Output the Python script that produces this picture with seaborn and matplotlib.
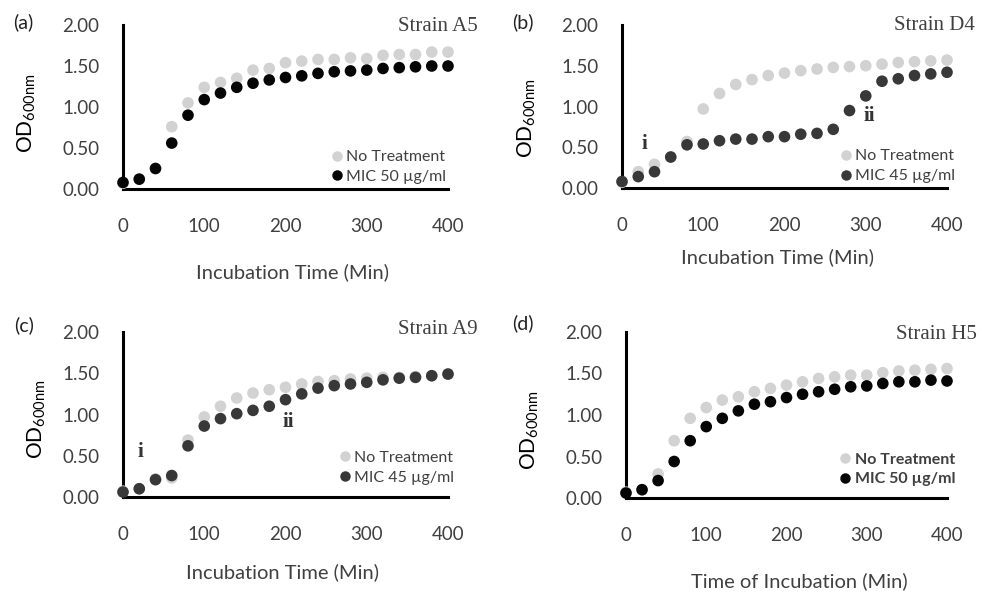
import pandas as pd
import matplotlib
matplotlib.use("Agg")
import matplotlib.pyplot as plt
import seaborn as sns

sns.set_theme(style="white")
plt.rcParams['font.family'] = ['Lato', 'DejaVu Sans']
plt.rcParams['mathtext.fontset'] = 'custom'
plt.rcParams['mathtext.rm'] = 'Lato'

# ----------------- data (OD600) -----------------
time_min = list(range(0, 401, 20))

a_none = [0.07, 0.12, 0.25, 0.76, 1.05, 1.24, 1.30, 1.35, 1.45, 1.47, 1.54,
          1.56, 1.58, 1.58, 1.60, 1.59, 1.63, 1.64, 1.64, 1.67, 1.67]
a_mic = [0.08, 0.12, 0.25, 0.56, 0.90, 1.09, 1.17, 1.24, 1.29, 1.33, 1.36,
         1.38, 1.41, 1.43, 1.44, 1.45, 1.47, 1.48, 1.49, 1.50, 1.50]

b_none = [0.07, 0.20, 0.29, 0.38, 0.57, 0.97, 1.16, 1.27, 1.33, 1.38, 1.41,
          1.44, 1.46, 1.48, 1.49, 1.50, 1.52, 1.54, 1.55, 1.56, 1.57]
b_mic = [0.08, 0.14, 0.20, 0.38, 0.53, 0.54, 0.58, 0.60, 0.60, 0.63, 0.63,
         0.66, 0.67, 0.72, 0.95, 1.13, 1.31, 1.34, 1.38, 1.40, 1.42]

c_none = [0.07, 0.10, 0.22, 0.23, 0.69, 0.97, 1.10, 1.20, 1.26, 1.30, 1.33,
          1.37, 1.40, 1.41, 1.43, 1.44, 1.45, 1.45, 1.46, 1.47, 1.49]
c_mic = [0.06, 0.10, 0.21, 0.26, 0.62, 0.86, 0.95, 1.01, 1.05, 1.10, 1.18,
         1.25, 1.32, 1.35, 1.37, 1.39, 1.42, 1.44, 1.45, 1.47, 1.49]

d_none = [0.07, 0.10, 0.29, 0.69, 0.96, 1.09, 1.18, 1.22, 1.28, 1.32, 1.36,
          1.40, 1.44, 1.46, 1.48, 1.48, 1.51, 1.53, 1.54, 1.55, 1.56]
d_mic = [0.06, 0.10, 0.21, 0.44, 0.69, 0.86, 0.96, 1.05, 1.13, 1.16, 1.21,
         1.25, 1.28, 1.31, 1.34, 1.35, 1.38, 1.40, 1.40, 1.42, 1.41]

y_ticks = [0, 0.5, 1.0, 1.5, 2.0]
x_ticks = [0, 100, 200, 300, 400]

LIGHT = '#d2d2d2'
TEXT = '#404040'

panels = [
    dict(letter='(a)', strain='Strain A5', none=a_none, mic=a_mic, mic_label='MIC 50 \u00b5g/ml',
         dark='#050505', xlabel='Incubation Time (Min)', bold_legend=False,
         rect=[123, 25, 448, 189], ylab=(-0.26, 0.46), xlab=(0.52, -0.45),
         leg=(0.995, 0.03), title=(1.09, 1.05), letter_xy=(13, 22), notes=[]),
    dict(letter='(b)', strain='Strain D4', none=b_none, mic=b_mic, mic_label='MIC 45 \u00b5g/ml',
         dark='#383838', xlabel='Incubation Time (Min)', bold_legend=False,
         rect=[622, 25, 947, 188], ylab=(-0.26, 0.43), xlab=(0.477, -0.37),
         leg=(1.025, 0.03), title=(1.086, 1.055), letter_xy=(512, 22),
         notes=[('i', 27, 0.54), ('ii', 304, 0.88)]),
    dict(letter='(c)', strain='Strain A9', none=c_none, mic=c_mic, mic_label='MIC 45 \u00b5g/ml',
         dark='#383838', xlabel='Incubation Time (Min)', bold_legend=False,
         rect=[123, 332, 448, 497], ylab=(-0.23, 0.47), xlab=(0.49, -0.40),
         leg=(1.02, 0.075), title=(1.09, 1.07), letter_xy=(14, 325),
         notes=[('i', 22, 0.54), ('ii', 204, 0.91)]),
    dict(letter='(d)', strain='Strain H5', none=d_none, mic=d_mic, mic_label='MIC 50 \u00b5g/ml',
         dark='#050505', xlabel='Time of Incubation (Min)', bold_legend=True,
         rect=[626, 332, 947, 498], ylab=(-0.265, 0.41), xlab=(0.54, -0.45),
         leg=(1.025, 0.07), title=(1.093, 1.04), letter_xy=(512, 323), notes=[]),
]

W, H = 984, 597
fig = plt.figure(figsize=(W / 100, H / 100), dpi=100)

for p in panels:
    x0, y0, x1, y1 = p['rect']
    ax = fig.add_axes([x0 / W, 1 - y1 / H, (x1 - x0) / W, (y1 - y0) / H])

    df = pd.DataFrame({
        'time': time_min + time_min,
        'od': p['none'] + p['mic'],
        'treatment': ['No Treatment'] * len(time_min) + [p['mic_label']] * len(time_min),
    })
    sns.scatterplot(data=df, x='time', y='od', hue='treatment',
                    palette=[LIGHT, p['dark']], s=70, linewidth=0,
                    clip_on=False, zorder=3, ax=ax)

    ax.set_xlim(0, 400)
    ax.set_ylim(0, 2)
    ax.set_xticks(x_ticks)
    ax.set_yticks(y_ticks)
    ax.set_yticklabels([f'{v:.2f}' for v in y_ticks])
    ax.tick_params(length=0, labelsize=13.5, labelcolor=TEXT)
    ax.tick_params(axis='x', pad=21)
    ax.tick_params(axis='y', pad=17)

    for side in ['top', 'right']:
        ax.spines[side].set_visible(False)
    for side in ['left', 'bottom']:
        ax.spines[side].set_color('black')
        ax.spines[side].set_linewidth(2.2)

    ax.set_ylabel(r'OD$_{\mathregular{600nm}}$', fontsize=15, color='black')
    ax.yaxis.set_label_coords(*p['ylab'])
    ax.set_xlabel(p['xlabel'], fontsize=14.5, color=TEXT)
    ax.xaxis.set_label_coords(*p['xlab'])

    leg = ax.legend(loc='lower right', bbox_to_anchor=p['leg'], frameon=False,
                    borderpad=0, borderaxespad=0, handletextpad=0.1,
                    handlelength=1.0, labelspacing=0.35, markerscale=0.9,
                    prop={'size': 11.5, 'weight': 'bold' if p['bold_legend'] else 'normal'})
    for t in leg.get_texts():
        t.set_color(TEXT)

    ax.text(p['title'][0], p['title'][1], p['strain'], transform=ax.transAxes,
            ha='right', va='top', fontsize=15, color='#404040',
            family=['Liberation Serif'])

    for txt, xv, yv in p['notes']:
        ax.text(xv, yv, txt, ha='center', va='center', fontsize=15,
                fontweight='bold', color='#333333', family=['Liberation Serif'])

    lx, ly = p['letter_xy']
    fig.text(lx / W, 1 - ly / H, p['letter'], ha='left', va='center',
             fontsize=14, color='#222222')

fig.savefig('out.png', dpi=100)
